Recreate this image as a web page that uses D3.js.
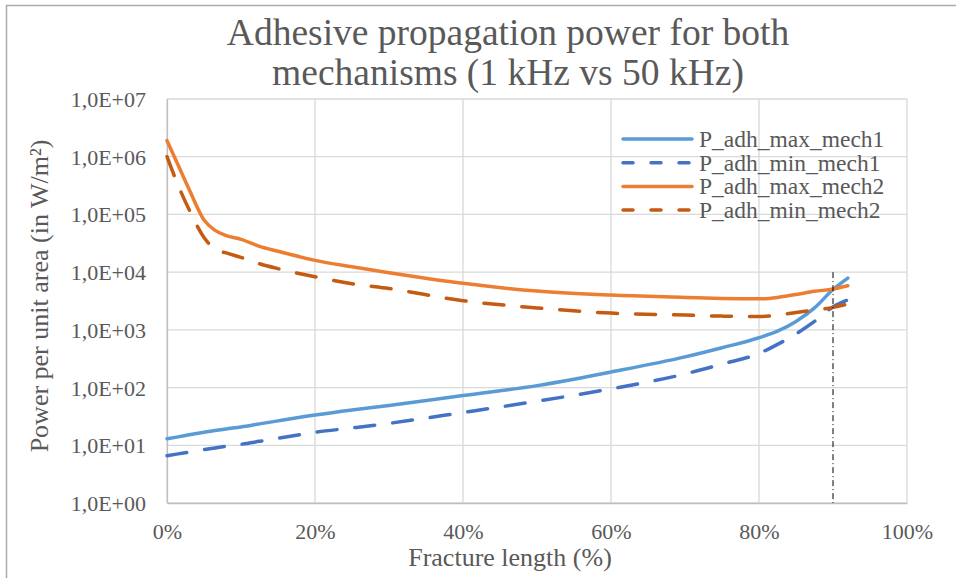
<!DOCTYPE html>
<html>
<head>
<meta charset="utf-8">
<script src="https://cdn.jsdelivr.net/npm/d3@7"></script>
<style>
  body { margin: 0; background: #fff; }
</style>
</head>
<body>
<div id="chart"></div>
<script>
// fracture length in %, shared by the four series
const fractureLength = [0, 1.5, 3, 5, 6.5, 8, 10, 12.5, 15, 20, 25, 30, 40, 50, 60, 70, 75, 80, 82.5, 85, 87.5, 90, 92];

const pAdhMaxMech1 = [13, 14, 15.2, 16.8, 18, 19.2, 20.8, 23.5, 26.5, 33.5, 41, 49, 73, 108, 186, 340, 490, 730, 950, 1400, 2400, 5000, 7900];
const pAdhMinMech1 = [6.6, 7.1, 7.6, 8.4, 9, 9.6, 10.4, 11.7, 13.2, 16.8, 20, 24, 37, 58, 95, 172, 255, 390, 560, 850, 1400, 2500, 3300];
const pAdhMaxMech2 = [1.9e6, 7.2e5, 2.7e5, 8e4, 5.3e4, 4.3e4, 3.7e4, 2.8e4, 2.3e4, 1.6e4, 1.24e4, 9.8e3, 6.4e3, 4.7e3, 4.0e3, 3.65e3, 3.5e3, 3.45e3, 3.65e3, 4.1e3, 4.65e3, 5.1e3, 5.8e3];
const pAdhMinMech2 = [1e6, 3.2e5, 1.2e5, 4e4, 2.5e4, 2.15e4, 1.8e4, 1.4e4, 1.15e4, 8.3e3, 6.3e3, 5.2e3, 3.2e3, 2.4e3, 1.95e3, 1.8e3, 1.73e3, 1.7e3, 1.8e3, 2.0e3, 2.2e3, 2.45e3, 2.8e3];

const seriesNames = ["P_adh_max_mech1", "P_adh_min_mech1", "P_adh_max_mech2", "P_adh_min_mech2"];
const seriesValues = [pAdhMaxMech1, pAdhMinMech1, pAdhMaxMech2, pAdhMinMech2];

const xTicks = [0, 20, 40, 60, 80, 100];
const yTicks = [1e0, 1e1, 1e2, 1e3, 1e4, 1e5, 1e6, 1e7];

// dash-dot marker at 90 %
const markerX = 90;
const markerTop = 1e4;

const titleLines = ["Adhesive propagation power for both", "mechanisms (1 kHz vs 50 kHz)"];

let w = 956, h = 578;

let margin = { top: 99, bottom: 75, left: 167, right: 49 };

const colors = ["#5B9BD5", "#4472C4", "#ED7D31", "#C55A11"];
const dashed = [false, true, false, true];

const fontName = "Liberation Serif";
const textColor = "#595959";

let svg = d3.select("#chart")
            .append("svg")
            .attr("width", w)
            .attr("height", h);

// outer chart border (only top/left inside the picture)
svg.append("rect")
   .attr("x", 6.5).attr("y", 5.5)
   .attr("width", 1000).attr("height", 1000)
   .attr("fill", "none")
   .attr("stroke", "#ABABAB")
   .attr("stroke-width", 1.5);

let x = d3.scaleLinear()
          .domain([0, 100])
          .range([margin.left, w - margin.right]);

let y = d3.scaleLog()
          .domain([1, 1e7])
          .range([h - margin.bottom, margin.top]);

// gridlines
svg.append("g")
   .selectAll("line")
   .data(yTicks)
   .enter()
   .append("line")
   .attr("x1", x(0)).attr("x2", x(100))
   .attr("y1", d => y(d)).attr("y2", d => y(d))
   .attr("stroke", "#D9D9D9")
   .attr("stroke-width", 1.3);

svg.append("g")
   .selectAll("line")
   .data(xTicks)
   .enter()
   .append("line")
   .attr("x1", d => x(d)).attr("x2", d => x(d))
   .attr("y1", y(1)).attr("y2", y(1e7))
   .attr("stroke", "#D9D9D9")
   .attr("stroke-width", 1.3);

// axes
let yAxis = d3.axisLeft(y)
              .tickValues(yTicks)
              .tickSize(0)
              .tickPadding(21)
              .tickFormat(d => "1,0E+" + String(Math.round(Math.log10(d))).padStart(2, "0"));

let xAxis = d3.axisBottom(x)
              .tickValues(xTicks)
              .tickSize(0)
              .tickPadding(20)
              .tickFormat(d => d + "%");

let gy = svg.append("g")
            .attr("transform", `translate(${x(0)},0)`)
            .call(yAxis);
gy.select(".domain").attr("stroke", "#BFBFBF").attr("stroke-width", 1.3);
gy.selectAll("text")
  .attr("font-family", fontName)
  .attr("font-size", 22)
  .attr("fill", textColor)
  .attr("dy", "0.34em");

let gx = svg.append("g")
            .attr("transform", `translate(0,${y(1)})`)
            .call(xAxis);
gx.select(".domain").attr("stroke", "#BFBFBF").attr("stroke-width", 1.3);
gx.selectAll("text")
  .attr("font-family", fontName)
  .attr("font-size", 22)
  .attr("fill", textColor)
  .attr("dy", "0.71em");

// series lines
let line = d3.line()
             .x(d => x(d[0]))
             .y(d => y(d[1]))
             .curve(d3.curveMonotoneX);

seriesValues.forEach((vals, i) => {
  let pts = fractureLength.map((f, j) => [f, vals[j]]);
  svg.append("path")
     .datum(pts)
     .attr("d", line)
     .attr("fill", "none")
     .attr("stroke", colors[i])
     .attr("stroke-width", 3.5)
     .attr("stroke-linecap", "round")
     .attr("stroke-dasharray", dashed[i] ? "20,18" : null);
});

// dash-dot marker line
svg.append("line")
   .attr("x1", x(markerX)).attr("x2", x(markerX))
   .attr("y1", y(markerTop)).attr("y2", y(1))
   .attr("stroke", "#000")
   .attr("stroke-width", 1)
   .attr("stroke-dasharray", "6,3,1,3");

// title
svg.append("text")
   .attr("text-anchor", "middle")
   .attr("font-family", fontName)
   .attr("font-size", 37.5)
   .attr("fill", textColor)
   .selectAll("tspan")
   .data(titleLines)
   .enter()
   .append("tspan")
   .attr("x", 508)
   .attr("y", (d, i) => 45 + i * 40)
   .text(d => d);

// axis titles
svg.append("text")
   .attr("x", 510)
   .attr("y", 566)
   .attr("text-anchor", "middle")
   .attr("font-family", fontName)
   .attr("font-size", 26)
   .attr("fill", textColor)
   .text("Fracture length (%)");

svg.append("text")
   .attr("transform", "translate(48,296) rotate(-90)")
   .attr("text-anchor", "middle")
   .attr("font-family", fontName)
   .attr("font-size", 26)
   .attr("fill", textColor)
   .text("Power per unit area (in W/m²)");

// legend
let legend = svg.append("g")
                .selectAll("g")
                .data(seriesNames)
                .enter()
                .append("g")
                .attr("transform", (d, i) => `translate(623,${139 + i * 23.7})`);

legend.append("line")
      .attr("x1", 0).attr("x2", 69)
      .attr("y1", 0).attr("y2", 0)
      .attr("stroke", (d, i) => colors[i])
      .attr("stroke-width", 3.5)
      .attr("stroke-linecap", "round")
      .attr("stroke-dasharray", (d, i) => dashed[i] ? "10,18" : null);

legend.append("text")
      .attr("x", 76)
      .attr("y", 8)
      .attr("font-family", fontName)
      .attr("font-size", 23.5)
      .attr("fill", textColor)
      .text(d => d);
</script>
</body>
</html>
